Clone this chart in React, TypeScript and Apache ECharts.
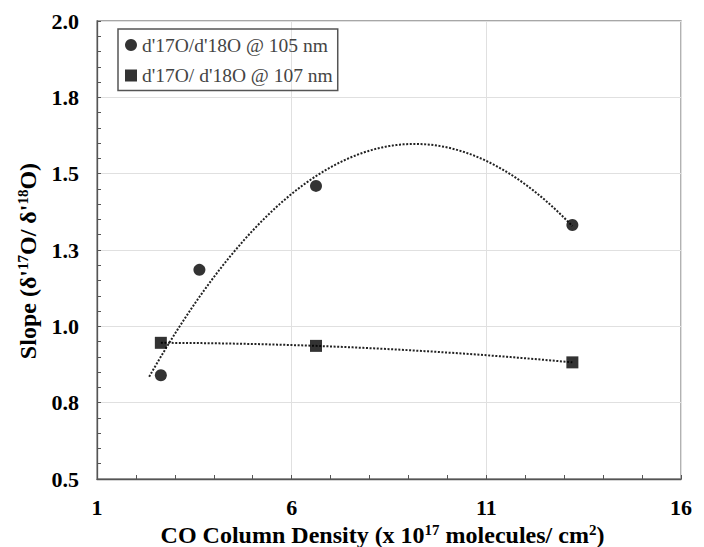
import React, { useEffect, useRef } from "react";
import * as echarts from "echarts";

const circleX = [2.64, 3.63, 6.625, 13.21];
const circleY = [0.84, 1.185, 1.46, 1.332];
const squareX = [2.64, 6.625, 13.21];
const squareY = [0.946, 0.936, 0.882];
const circleTrendRange = [2.34, 13.21];
const squareTrendRange = [2.64, 13.21];
const xTicks = [1, 6, 11, 16];
const yTicks = [0.5, 0.75, 1.0, 1.25, 1.5, 1.75, 2.0];
const legendNames = ["d'17O/d'18O @ 105 nm", "d'17O/ d'18O @ 107 nm"];

function polyFit2(xs: number[], ys: number[]): number[] {
  const S = (p: number) => xs.reduce((s, x) => s + Math.pow(x, p), 0);
  const T = (p: number) => xs.reduce((s, x, i) => s + Math.pow(x, p) * ys[i], 0);
  const M = [
    [S(0), S(1), S(2), T(0)],
    [S(1), S(2), S(3), T(1)],
    [S(2), S(3), S(4), T(2)],
  ];
  for (let i = 0; i < 3; i++) {
    let piv = i;
    for (let r = i + 1; r < 3; r++) if (Math.abs(M[r][i]) > Math.abs(M[piv][i])) piv = r;
    [M[i], M[piv]] = [M[piv], M[i]];
    for (let r = 0; r < 3; r++) {
      if (r === i) continue;
      const f = M[r][i] / M[i][i];
      for (let c = i; c < 4; c++) M[r][c] -= f * M[i][c];
    }
  }
  return [M[0][3] / M[0][0], M[1][3] / M[1][1], M[2][3] / M[2][2]];
}

function trend(xs: number[], ys: number[], range: number[]): number[][] {
  const [a, b, c] = polyFit2(xs, ys);
  const pts: number[][] = [];
  const n = 120;
  for (let i = 0; i <= n; i++) {
    const x = range[0] + ((range[1] - range[0]) * i) / n;
    pts.push([x, a + b * x + c * x * x]);
  }
  return pts;
}

const serif = "Liberation Serif";

export default function App() {
  const ref = useRef<HTMLDivElement>(null);
  useEffect(() => {
    document.body.style.margin = "0";
    const chart = echarts.init(ref.current!, undefined, { renderer: "svg" });
    const axisLabel = { fontFamily: serif, fontWeight: "bold" as const, fontSize: 22, color: "#000" };
    const dotted = { type: [2, 1.6] as any, color: "#222", width: 2 };
    const rich = {
      b: { fontFamily: serif, fontWeight: "bold", fontSize: 24, lineHeight: 24, color: "#000" },
      sup: { fontFamily: serif, fontWeight: "bold", fontSize: 15, lineHeight: 15, color: "#000", padding: [0, 0, 10, 0] },
    };
    chart.setOption({
      animation: false,
      backgroundColor: "#fff",
      grid: {
        left: 97,
        top: 21,
        right: 23,
        bottom: 68,
        show: true,
        borderColor: "#8a8a8a",
        borderWidth: 1.3,
        containLabel: false,
        outerBoundsMode: "none",
      },
      legend: {
        left: 118,
        top: 29,
        orient: "vertical",
        data: [
          { name: legendNames[0], icon: "circle" },
          { name: legendNames[1], icon: "rect" },
        ],
        borderColor: "#555",
        borderWidth: 1.5,
        padding: [6, 5, 5, 7],
        itemWidth: 12,
        itemHeight: 12,
        itemGap: 10.5,
        textStyle: { fontFamily: serif, fontSize: 19.5, color: "#444" },
      },
      xAxis: {
        type: "value",
        min: xTicks[0],
        max: xTicks[xTicks.length - 1],
        interval: 5,
        name: "{b|CO Column Density (x 10}{sup|17}{b| molecules/ cm}{sup|2}{b|)}",
        nameLocation: "middle",
        nameGap: 36,
        nameTextStyle: { rich, padding: [0, 13, 0, 0] },
        axisLine: { lineStyle: { color: "#555", width: 1.3 } },
        axisTick: { inside: true, length: 4, lineStyle: { color: "#555" } },
        minorTick: { show: true, splitNumber: 5, length: 4, lineStyle: { color: "#555" } },
        splitLine: { show: true, lineStyle: { color: "#e0e0e0", width: 1 } },
        axisLabel: { ...axisLabel, margin: 17 },
      },
      yAxis: {
        type: "value",
        min: yTicks[0],
        max: yTicks[yTicks.length - 1],
        interval: 0.25,
        name: "{b|Slope (δ'}{sup|17}{b|O/ δ'}{sup|18}{b|O)}",
        nameLocation: "middle",
        nameGap: 56,
        nameTextStyle: { rich, padding: [0, 22, 0, 0] },
        axisLine: { show: true, lineStyle: { color: "#555", width: 1.3 } },
        axisTick: { show: true, inside: true, length: 4, lineStyle: { color: "#555" } },
        minorTick: { show: true, splitNumber: 5, length: 4, lineStyle: { color: "#555" } },
        splitLine: { show: true, lineStyle: { color: "#e0e0e0", width: 1 } },
        axisLabel: { ...axisLabel, margin: 18, formatter: (v: number) => v.toFixed(1) },
      },
      series: [
        {
          name: "trend105",
          type: "line",
          data: trend(circleX, circleY, circleTrendRange),
          showSymbol: false,
          symbol: "none",
          lineStyle: dotted,
          z: 1,
        },
        {
          name: "trend107",
          type: "line",
          data: trend(squareX, squareY, squareTrendRange),
          showSymbol: false,
          symbol: "none",
          lineStyle: dotted,
          z: 1,
        },
        {
          name: legendNames[0],
          type: "scatter",
          symbol: "circle",
          symbolSize: 12,
          itemStyle: { color: "#000" },
          data: circleX.map((x, i) => [x, circleY[i]]),
          z: 3,
        },
        {
          name: legendNames[1],
          type: "scatter",
          symbol: "rect",
          symbolSize: 12,
          itemStyle: { color: "#000" },
          data: squareX.map((x, i) => [x, squareY[i]]),
          z: 3,
        },
      ],
    });
    return () => chart.dispose();
  }, []);
  return <div ref={ref} style={{ width: 704, height: 547 }} />;
}
